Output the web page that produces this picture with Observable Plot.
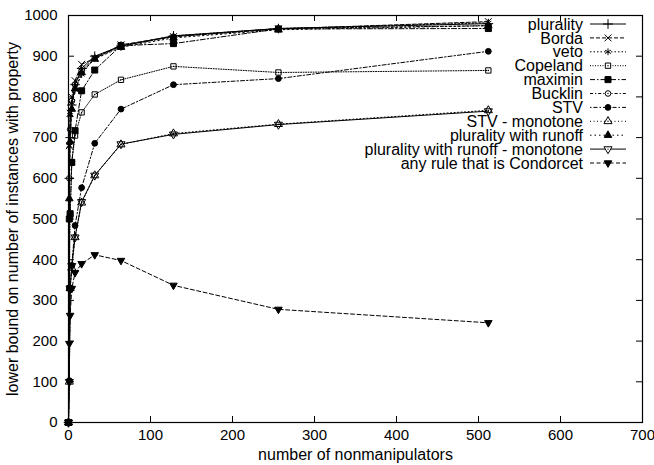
<!DOCTYPE html>
<html><head><meta charset="utf-8">
<script src="https://cdn.jsdelivr.net/npm/d3@7"></script>
<script src="https://cdn.jsdelivr.net/npm/@observablehq/plot@0.6"></script>
<style>body{margin:0;background:#fff}</style>
</head><body><div id="chart"></div>
<script>
// ---- data ----
const xs = [0, 1, 2, 4, 8, 16, 32, 64, 128, 256, 512];
const names = ["plurality", "Borda", "veto", "Copeland", "maximin", "Bucklin", "STV",
  "STV - monotone", "plurality with runoff", "plurality with runoff - monotone", "any rule that is Condorcet"];
const plurality      = [0, 600, 700, 780, 830, 870, 900, 925, 950, 968, 980];
const borda          = [0, 680, 760, 800, 840, 880, 895, 928, 948, 967, 985];
const veto           = [0, 680, 755, 785, 818, 855, 897, 926, 950, 968, 982];
const copeland       = [0, 330, 510, 640, 705, 762, 806, 842, 875, 860, 865];
const maximin        = [0, 500, 513, 639, 717, 815, 866, 926, 931, 967, 968];
const bucklin        = [0, 600, 720, 790, 830, 865, 895, 925, 948, 968, 975];
const stv            = [0, 103, 329, 386, 484, 577, 686, 770, 830, 845, 912];
const stvMonotone    = [0, 100, 330, 380, 455, 540, 607, 683, 710, 733, 767];
const runoff         = [0, 550, 690, 770, 820, 860, 893, 922, 945, 965, 975];
const runoffMonotone = [0, 100, 329, 385, 455, 542, 607, 684, 708, 732, 765];
const condorcet      = [0, 194, 263, 329, 368, 390, 412, 398, 337, 278, 245];
const xTicks = [0, 100, 200, 300, 400, 500, 600, 700];
const yTicks = [0, 100, 200, 300, 400, 500, 600, 700, 800, 900, 1000];
const xLabel = "number of nonmanipulators";
const yLabel = "lower bound on number of instances with property";

const seriesValues = [plurality, borda, veto, copeland, maximin, bucklin, stv,
  stvMonotone, runoff, runoffMonotone, condorcet];

// ---- styles ----
const triangleDown = {
  draw(context, size) {
    const y = -Math.sqrt(size / (3 * Math.sqrt(3)));
    const s3 = Math.sqrt(3);
    context.moveTo(0, -2 * y);
    context.lineTo(-s3 * y, y);
    context.lineTo(s3 * y, y);
    context.closePath();
  }
};
const styles = [
  {symbol: d3.symbolPlus, filled: false, dot: false, r: 3.2, dash: null},
  {symbol: d3.symbolTimes, filled: false, dot: false, r: 3.2, dash: "4,2"},
  {symbol: d3.symbolAsterisk, filled: false, dot: false, r: 3.2, dash: "1.5,2"},
  {symbol: d3.symbolSquare, filled: false, dot: true, r: 3.0, dash: "1,1.5"},
  {symbol: d3.symbolSquare, filled: true, dot: false, r: 3.4, dash: "5,2,1.5,2"},
  {symbol: d3.symbolCircle, filled: false, dot: true, r: 2.8, dash: "3,2,1.2,2"},
  {symbol: d3.symbolCircle, filled: true, dot: false, r: 2.9, dash: "1.5,2,4,2"},
  {symbol: d3.symbolTriangle, filled: false, dot: true, r: 3.0, dash: "1,2.5"},
  {symbol: d3.symbolTriangle, filled: true, dot: false, r: 2.8, dash: "1.5,3"},
  {symbol: triangleDown, filled: false, dot: true, r: 3.0, dash: null},
  {symbol: triangleDown, filled: true, dot: false, r: 2.8, dash: "4,2.5"}
];

const W = 654, H = 465, ML = 68, MR = 12, MT = 15, MB = 43;
const FW = W - ML - MR, FH = H - MT - MB, TICK = 6;
const font = "Liberation Sans, Arial, Helvetica, sans-serif";

const rows = names.map((name, i) => xs.map((x, j) => ({name, i, x, y: seriesValues[i][j]})));

const marks = [];
rows.forEach((data, i) => {
  const s = styles[i];
  marks.push(Plot.line(data, {x: "x", y: "y", stroke: "black", strokeWidth: 1,
    strokeDasharray: s.dash || undefined}));
});
rows.forEach((data, i) => {
  const s = styles[i];
  marks.push(Plot.dot(data, {x: "x", y: "y", symbol: s.symbol, r: s.r,
    fill: s.filled ? "black" : "none", stroke: "black", strokeWidth: 1}));
  if (s.dot) marks.push(Plot.dot(data, {x: "x", y: "y", r: 0.7, fill: "black", stroke: "none"}));
});

const chart = Plot.plot({
  width: W, height: H,
  marginLeft: ML, marginRight: MR, marginTop: MT, marginBottom: MB,
  style: {fontFamily: font, fontSize: "15px", background: "white", color: "black"},
  x: {domain: [0, 700]},
  y: {domain: [0, 1000]},
  marks: [
    Plot.axisX(xTicks, {tickSize: 0, tickPadding: 7, label: null, fontSize: 15, tickFormat: d => String(d)}),
    Plot.axisY(yTicks, {tickSize: 0, tickPadding: 11, label: null, fontSize: 15, tickFormat: d => String(d)}),
    Plot.tickY(yTicks, {y: d => d, stroke: "black", insetRight: FW - TICK}),
    Plot.tickY(yTicks, {y: d => d, stroke: "black", insetLeft: FW - TICK}),
    Plot.tickX(xTicks, {x: d => d, stroke: "black", insetTop: FH - TICK}),
    Plot.tickX(xTicks, {x: d => d, stroke: "black", insetBottom: FH - TICK}),
    ...marks,
    Plot.frame({stroke: "black", strokeWidth: 1.2}),
    Plot.text([xLabel], {frameAnchor: "bottom", dy: 32, lineAnchor: "middle", textAnchor: "middle", fontSize: 16, text: d => d}),
    Plot.text([yLabel], {frameAnchor: "left", dx: -56, rotate: -90, lineAnchor: "middle", textAnchor: "middle", fontSize: 16, text: d => d})
  ]
});

// ---- legend (inside frame, top right) ----
const svg = d3.select(chart);
const lg = svg.append("g").attr("font-family", font).attr("font-size", 16);
names.forEach((name, i) => {
  const s = styles[i];
  const cy = 24 + 13.9 * i;
  lg.append("text").attr("x", 583).attr("y", cy).attr("dy", "0.35em")
    .attr("text-anchor", "end").attr("fill", "black").text(name);
  lg.append("line").attr("x1", 590).attr("x2", 626).attr("y1", cy).attr("y2", cy)
    .attr("stroke", "black").attr("stroke-width", 1)
    .attr("stroke-dasharray", s.dash || null);
  lg.append("path").attr("transform", `translate(608,${cy})`)
    .attr("d", d3.symbol(s.symbol, Math.PI * s.r * s.r)())
    .attr("fill", s.filled ? "black" : "white").attr("stroke", "black").attr("stroke-width", 1);
  if (s.dot) lg.append("circle").attr("cx", 608).attr("cy", cy).attr("r", 0.7).attr("fill", "black");
});

document.getElementById("chart").appendChild(chart);
</script>
</body></html>
